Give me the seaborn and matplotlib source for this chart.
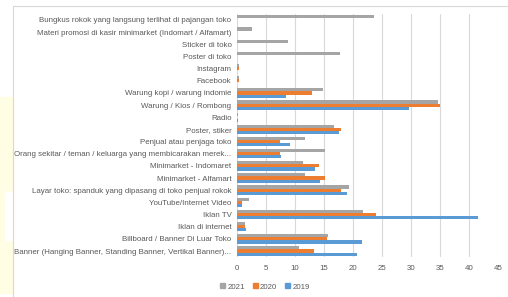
import numpy as np
import pandas as pd
import matplotlib
matplotlib.use("Agg")
import matplotlib.pyplot as plt
from matplotlib.patches import Rectangle
from matplotlib.lines import Line2D
import seaborn as sns

# categories, top to bottom as shown in the chart
categories = [
    "Bungkus rokok yang langsung terlihat di pajangan toko",
    "Materi promosi di kasir minimarket (Indomart / Alfamart)",
    "Sticker di toko",
    "Poster di toko",
    "Instagram",
    "Facebook",
    "Warung kopi / warung indomie",
    "Warung / Kios / Rombong",
    "Radio",
    "Poster, stiker",
    "Penjual atau penjaga toko",
    "Orang sekitar / teman / keluarga yang membicarakan merek...",
    "Minimarket - Indomaret",
    "Minimarket - Alfamart",
    "Layar toko: spanduk yang dipasang di toko penjual rokok",
    "YouTube/Internet Video",
    "Iklan TV",
    "Iklan di internet",
    "Billboard / Banner Di Luar Toko",
    "Banner (Hanging Banner, Standing Banner, Vertikal Banner)...",
]

years = ["2021", "2020", "2019"]

vals_2021 = [23.7, 2.6, 8.8, 17.7, 0.3, 0.3, 14.9, 34.7, 0.2, 16.7,
             11.7, 15.2, 11.4, 11.8, 19.3, 2.0, 21.8, 1.4, 15.7, 10.7]
vals_2020 = [0, 0, 0, 0, 0.3, 0.3, 12.9, 35.0, 0, 18.0,
             7.4, 7.4, 14.1, 15.2, 18.0, 0.9, 23.9, 1.4, 15.5, 13.2]
vals_2019 = [0, 0, 0, 0, 0, 0, 8.5, 29.6, 0.2, 17.6,
             9.1, 7.6, 13.4, 14.3, 19.0, 0.9, 41.6, 1.6, 21.6, 20.7]

colors = {"2021": "#A5A5A5", "2020": "#ED7D31", "2019": "#5B9BD5"}

df = pd.DataFrame({
    "category": categories * 3,
    "year": ["2021"] * len(categories) + ["2020"] * len(categories) + ["2019"] * len(categories),
    "value": vals_2021 + vals_2020 + vals_2019,
})

sns.set_style("white")
plt.rcParams["font.family"] = ["Liberation Sans", "DejaVu Sans"]
txt = "#595959"
fs = 5.7

fig = plt.figure(figsize=(5.08, 2.97), dpi=100)
W, H = 508, 297

# page background bits around the chart
fig.patches.append(Rectangle((0, 1 - 293 / H), 13 / W, (293 - 97) / H,
                             transform=fig.transFigure, color="#FFFDE3", zorder=0))
fig.patches.append(Rectangle((5 / W, 1 - 240 / H), 8 / W, 48 / H,
                             transform=fig.transFigure, color="white", zorder=0))
fig.lines.append(Line2D([13 / W, 13 / W], [0, 1 - 6 / H], transform=fig.transFigure,
                        color="#D9D9D9", lw=0.8))
fig.lines.append(Line2D([13 / W, 1], [1 - 6 / H, 1 - 6 / H], transform=fig.transFigure,
                        color="#D9D9D9", lw=0.8))

ax = fig.add_axes([237 / W, 1 - 257.1 / H, (498 - 237) / W, (257.1 - 13.9) / H])
sns.barplot(data=df, y="category", x="value", hue="year", hue_order=years,
            order=categories, orient="h", palette=colors, width=0.78,
            ax=ax, legend=False, saturation=1, linewidth=0)

ax.set_xlim(0, 45)
ax.set_xticks(np.arange(0, 46, 5))
ax.set_xlabel("")
ax.set_ylabel("")
ax.grid(axis="x", color="#D9D9D9", lw=0.8)
ax.set_axisbelow(True)
for s in ax.spines.values():
    s.set_visible(False)
ax.tick_params(axis="both", length=0, labelsize=fs, colors=txt, pad=4)
ax.tick_params(axis="x", pad=6)

handles = [Rectangle((0, 0), 1, 1, color=colors[y]) for y in years]
fig.legend(handles, years, loc="center", bbox_to_anchor=(265 / W, 1 - 287 / H),
           ncol=3, frameon=False, fontsize=fs, labelcolor=txt,
           handlelength=0.6, handleheight=0.6, handletextpad=0.3, columnspacing=1.0)

fig.savefig("out.png", dpi=100)
